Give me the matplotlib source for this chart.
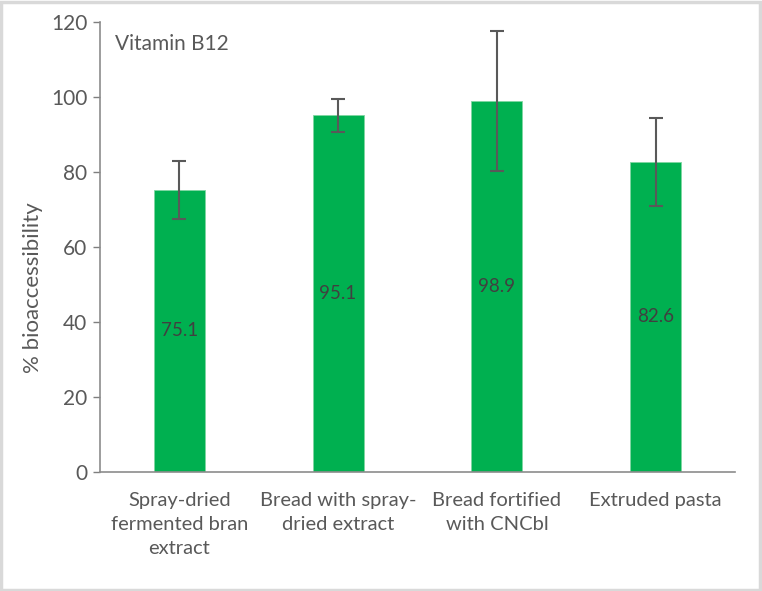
import matplotlib
matplotlib.use("Agg")
import matplotlib.pyplot as plt
from matplotlib.patches import Rectangle

categories = ["Spray-dried\nfermented bran\nextract", "Bread with spray-\ndried extract",
              "Bread fortified\nwith CNCbl", "Extruded pasta"]
values = [75.1, 95.1, 98.9, 82.6]
errors = [7.8, 4.4, 18.7, 11.8]
yticks = [0, 20, 40, 60, 80, 100, 120]

plt.rcParams['font.family'] = ['Lato', 'DejaVu Sans']

fig = plt.figure(figsize=(7.62, 5.91), dpi=100)
ax = fig.add_axes([100/762, 1-471.7/591, 635/762, 450/591])

x = list(range(len(categories)))
ax.bar(x, values, width=0.32, color="#00B050", edgecolor="#7fd6a2", linewidth=0.6, zorder=2)
ax.errorbar(x, values, yerr=errors, fmt='none', ecolor="#595959", elinewidth=1.5,
            capsize=5, capthick=1.5, zorder=3)
for xi, v in zip(x, values):
    ax.text(xi, v/2, f"{v:.1f}", ha='center', va='center', fontsize=13.5, color="#404040", zorder=4)

ax.set_xlim(-0.5, len(categories)-0.5)
ax.set_ylim(0, 120)
ax.set_yticks(yticks)
ax.set_yticklabels([str(t) for t in yticks])
ax.tick_params(axis='y', direction='out', length=5, width=1, color="#7f7f7f",
               labelsize=15, labelcolor="#595959", pad=4)
ax.set_xticks(x)
ax.set_xticklabels([])
ax.tick_params(axis='x', length=0)
for xi, lab in zip(x, categories):
    ax.annotate(lab, xy=(xi, 0), xycoords=('data', 'axes fraction'),
                xytext=(0, -14.5), textcoords='offset points', ha='center', va='top',
                fontsize=14.5, color="#595959", linespacing=1.52)
for s in ['top', 'right']:
    ax.spines[s].set_visible(False)
for s in ['left', 'bottom']:
    ax.spines[s].set_color("#8c8c8c")
    ax.spines[s].set_linewidth(1.2)

ax.text(0.024, 0.95, "Vitamin B12", transform=ax.transAxes, ha='left', va='center',
        fontsize=15, color="#595959")
fig.text(33/762, 1-288/591, "% bioaccessibility", rotation=90, ha='center', va='center',
         fontsize=16, color="#595959")

fig.patches.append(Rectangle((0.001, 0.001), 0.997, 0.996, transform=fig.transFigure,
                             fill=False, edgecolor="#d9d9d9", linewidth=2.5))

fig.savefig("out.png", dpi=100)
